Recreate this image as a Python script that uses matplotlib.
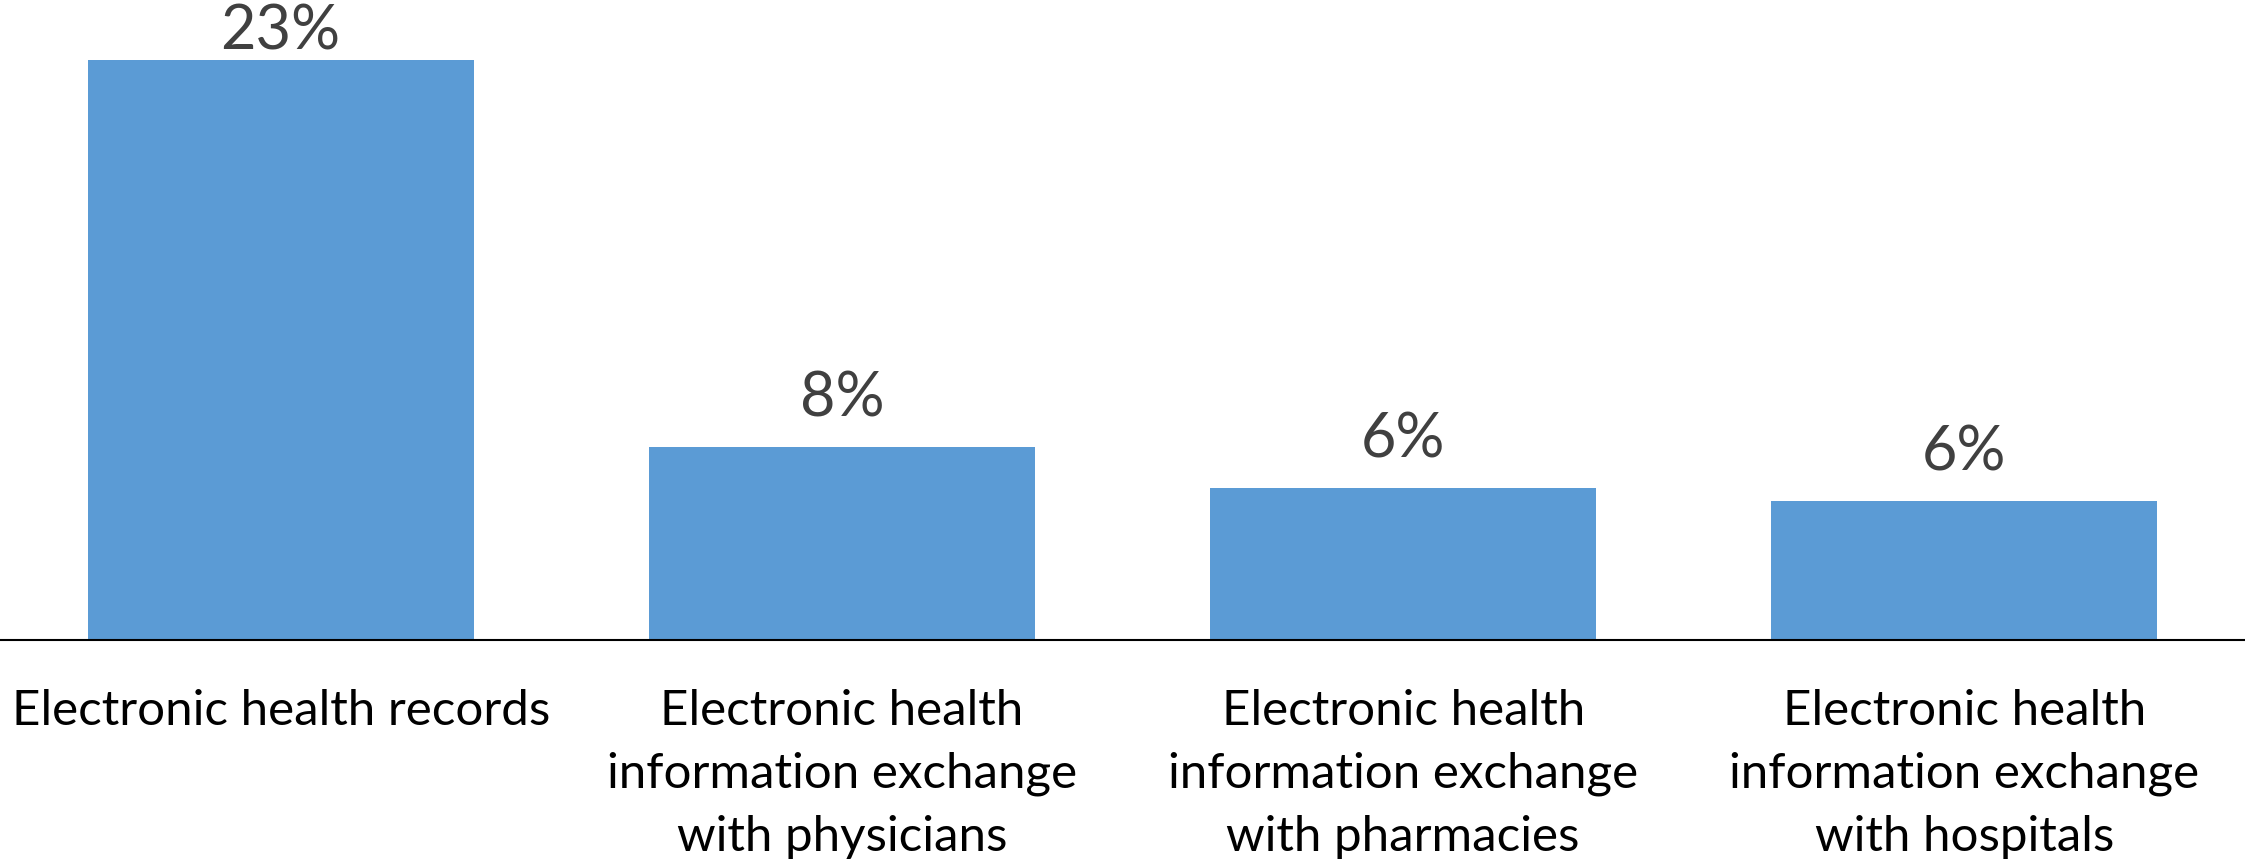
import matplotlib
matplotlib.use("Agg")
import matplotlib.pyplot as plt

categories = [
    "Electronic health records",
    "Electronic health\ninformation exchange\nwith physicians",
    "Electronic health\ninformation exchange\nwith pharmacies",
    "Electronic health\ninformation exchange\nwith hospitals",
]
values = [23.0, 7.65, 6.03, 5.51]
value_labels = ["23%", "8%", "6%", "6%"]

bar_color = "#5B9BD5"
label_color = "#404040"
FONT = ["Lato", "DejaVu Sans"]

fig = plt.figure(figsize=(22.45, 8.65), dpi=100)
ax = fig.add_axes([0, 1 - 640 / 865, 1, 640 / 865])

x = list(range(len(categories)))
bars = ax.bar(x, values, width=0.688, color=bar_color, zorder=2)
ax.set_xlim(-0.5, len(categories) - 0.5)
ax.set_ylim(0, 23 * 640 / 580)

texts = []
for rect, lab in zip(bars, value_labels):
    t = ax.annotate(lab, (rect.get_x() + rect.get_width() / 2, rect.get_height()),
                    xytext=(0, 14), textcoords="offset points",
                    ha="center", va="bottom", fontsize=44, color=label_color,
                    family=FONT, annotation_clip=False)
    texts.append(t)

ax.set_xticks(x)
ax.set_xticklabels(categories, fontsize=35.5, family=FONT,
                   color="black", linespacing=1.53)
ax.tick_params(axis="x", length=0, pad=35)
ax.set_yticks([])
for s in ["top", "left", "right"]:
    ax.spines[s].set_visible(False)
ax.spines["bottom"].set_color("black")
ax.spines["bottom"].set_linewidth(1.5)

# keep value labels inside the figure (shift down if they overflow the top)
fig.canvas.draw()
r = fig.canvas.get_renderer()
H = fig.bbox.height
for t in texts:
    bb = t.get_window_extent(r)
    if bb.y1 > H - 4:
        shift_px = bb.y1 - (H - 4)
        ox, oy = t.xyann
        t.xyann = (ox, oy - shift_px * 72 / fig.dpi)

fig.savefig("out.png", dpi=100)
